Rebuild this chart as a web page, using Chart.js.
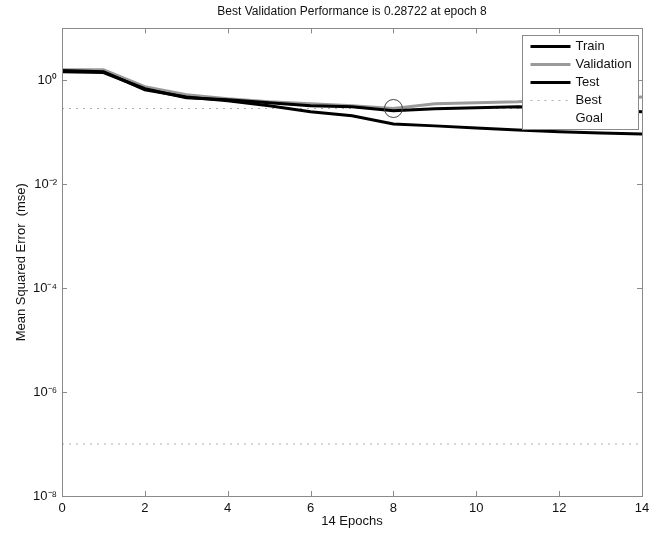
<!DOCTYPE html>
<html>
<head>
<meta charset="utf-8">
<script src="https://cdn.jsdelivr.net/npm/chart.js@4"></script>
<style>
  html, body { margin: 0; padding: 0; background: #fff; }
  #wrap { width: 661px; height: 537px; }
</style>
</head>
<body>
<div id="wrap"><canvas id="chartPerf" width="661" height="537"></canvas></div>
<script>
const epochs = [0, 1, 2, 3, 4, 5, 6, 7, 8, 9, 10, 11, 12, 13, 14];
const trainMse = [1.54, 1.47, 0.66, 0.48, 0.405, 0.324, 0.249, 0.208, 0.145, 0.133, 0.121, 0.111, 0.102, 0.097, 0.093];
const validationMse = [1.6, 1.6, 0.755, 0.53, 0.443, 0.387, 0.354, 0.324, 0.28722, 0.354, 0.37, 0.387, 0.423, 0.443, 0.48];
const testMse = [1.47, 1.41, 0.69, 0.463, 0.423, 0.37, 0.324, 0.31, 0.26, 0.284, 0.297, 0.31, 0.297, 0.27, 0.249];
const bestEpoch = 8;
const bestValue = 0.28722;
const goalValue = 1e-7;
const xTickValues = [0, 2, 4, 6, 8, 10, 12, 14];
const yTickValues = [1e-8, 1e-6, 1e-4, 1e-2, 1];
const yTickLabels = ["10\u207B\u2078", "10\u207B\u2076", "10\u207B\u2074", "10\u207B\u00B2", "10\u2070"];

document.addEventListener("DOMContentLoaded", function () {
  const fontFamily = "'Liberation Sans', Arial, sans-serif";
  const axisColor = "#8a8a8a";
  const firstEpoch = epochs[0];
  const lastEpoch = epochs[epochs.length - 1];

  function serie(values) {
    return values.map((v, i) => ({ x: epochs[i], y: v }));
  }

  // marco tipo matlab con ticks hacia dentro
  const marcoPlugin = {
    id: "marco",
    afterDatasetsDraw(chart) {
      const ctx = chart.ctx;
      const area = chart.chartArea;
      const sx = chart.scales.x;
      const sy = chart.scales.y;
      ctx.save();
      ctx.strokeStyle = axisColor;
      ctx.lineWidth = 1;
      ctx.beginPath();
      xTickValues.forEach((v) => {
        const px = Math.round(sx.getPixelForValue(v)) + 0.5;
        ctx.moveTo(px, area.bottom);
        ctx.lineTo(px, area.bottom - 5);
        ctx.moveTo(px, area.top);
        ctx.lineTo(px, area.top + 5);
      });
      yTickValues.forEach((v) => {
        const py = Math.round(sy.getPixelForValue(v)) + 0.5;
        ctx.moveTo(area.left, py);
        ctx.lineTo(area.left + 5, py);
        ctx.moveTo(area.right, py);
        ctx.lineTo(area.right - 5, py);
      });
      ctx.stroke();
      ctx.strokeRect(Math.round(area.left) + 0.5, Math.round(area.top) + 0.5,
        Math.round(area.right - area.left), Math.round(area.bottom - area.top));
      ctx.restore();
    },
  };

  // leyenda en la esquina superior derecha
  const leyendaPlugin = {
    id: "leyenda",
    afterDraw(chart) {
      const ctx = chart.ctx;
      const area = chart.chartArea;
      const items = chart.data.datasets.filter((d) => d.enLeyenda);
      const boxW = 116;
      const rowH = 18;
      const boxH = items.length * rowH + 4;
      const x0 = Math.round(area.right - boxW - 4) + 0.5;
      const y0 = Math.round(area.top + 7) + 0.5;
      ctx.save();
      ctx.fillStyle = "#fff";
      ctx.fillRect(x0, y0, boxW, boxH);
      ctx.strokeStyle = axisColor;
      ctx.lineWidth = 1;
      ctx.strokeRect(x0, y0, boxW, boxH);
      ctx.font = "13px " + fontFamily;
      ctx.textBaseline = "middle";
      items.forEach((d, i) => {
        const cy = y0 + 11 + i * rowH;
        if (d.muestra !== false) {
          ctx.beginPath();
          ctx.strokeStyle = d.borderColor;
          ctx.lineWidth = d.borderWidth;
          ctx.setLineDash(d.borderDash || []);
          ctx.moveTo(x0 + 8, cy);
          ctx.lineTo(x0 + 48, cy);
          ctx.stroke();
          ctx.setLineDash([]);
        }
        ctx.fillStyle = "#111";
        ctx.fillText(d.label, x0 + 53, cy);
      });
      ctx.restore();
    },
  };

  new Chart(document.getElementById("chartPerf"), {
    type: "line",
    data: {
      datasets: [
        {
          label: "Train",
          data: serie(trainMse),
          borderColor: "#000",
          borderWidth: 3,
          pointRadius: 0,
          tension: 0,
          order: 1,
          enLeyenda: true,
        },
        {
          label: "Validation",
          data: serie(validationMse),
          borderColor: "#9a9a9a",
          borderWidth: 3,
          pointRadius: 0,
          tension: 0,
          order: 2,
          enLeyenda: true,
        },
        {
          label: "Test",
          data: serie(testMse),
          borderColor: "#000",
          borderWidth: 3,
          pointRadius: 0,
          tension: 0,
          order: 1,
          enLeyenda: true,
        },
        {
          label: "Best",
          data: [
            { x: firstEpoch, y: bestValue },
            { x: lastEpoch, y: bestValue },
          ],
          borderColor: "#b0b0b0",
          borderWidth: 1,
          borderDash: [2, 5],
          pointRadius: 0,
          order: 3,
          enLeyenda: true,
        },
        {
          label: "Goal",
          data: [
            { x: firstEpoch, y: goalValue },
            { x: lastEpoch, y: goalValue },
          ],
          borderColor: "#b0b0b0",
          borderWidth: 1,
          borderDash: [2, 5],
          pointRadius: 0,
          order: 3,
          enLeyenda: true,
          muestra: false,
        },
        {
          label: "BestPoint",
          data: [{ x: bestEpoch, y: bestValue }],
          showLine: false,
          pointRadius: 9,
          pointStyle: "circle",
          pointBorderColor: "#444",
          pointBackgroundColor: "rgba(0,0,0,0)",
          pointBorderWidth: 1,
          order: 0,
        },
      ],
    },
    options: {
      responsive: false,
      animation: false,
      layout: {
        padding: { left: 0, right: 19, top: 0, bottom: 0 },
      },
      plugins: {
        legend: { display: false },
        tooltip: { enabled: false },
        title: {
          display: true,
          text: "Best Validation Performance is 0.28722 at epoch 8",
          color: "#111",
          fullSize: false,
          font: { family: fontFamily, size: 12, weight: "normal" },
          padding: { top: 4, bottom: 10 },
        },
      },
      scales: {
        x: {
          type: "linear",
          min: firstEpoch,
          max: lastEpoch,
          grid: { display: false, drawTicks: false },
          border: { display: false },
          afterBuildTicks: function (axis) {
            axis.ticks = xTickValues.map((v) => ({ value: v }));
          },
          afterFit: function (scale) {
            scale.height = 41;
          },
          ticks: {
            color: "#111",
            padding: 5,
            maxRotation: 0,
            font: { family: fontFamily, size: 13 },
          },
          title: {
            display: true,
            text: "14 Epochs",
            color: "#111",
            font: { family: fontFamily, size: 13 },
            padding: { top: 0, bottom: 8 },
          },
        },
        y: {
          type: "logarithmic",
          min: 1e-8,
          max: 10,
          grid: { display: false, drawTicks: false },
          border: { display: false },
          afterBuildTicks: function (axis) {
            axis.ticks = yTickValues.map((v) => ({ value: v }));
          },
          afterFit: function (scale) {
            scale.width = 62;
          },
          ticks: {
            color: "#111",
            padding: 5,
            font: { family: fontFamily, size: 13 },
            callback: function (value) {
              const i = yTickValues.indexOf(value);
              return i >= 0 ? yTickLabels[i] : "";
            },
          },
          title: {
            display: true,
            text: "Mean Squared Error  (mse)",
            color: "#111",
            font: { family: fontFamily, size: 13 },
            padding: { top: 14, bottom: 0 },
          },
        },
      },
    },
    plugins: [marcoPlugin, leyendaPlugin],
  });
});
</script>
</body>
</html>
